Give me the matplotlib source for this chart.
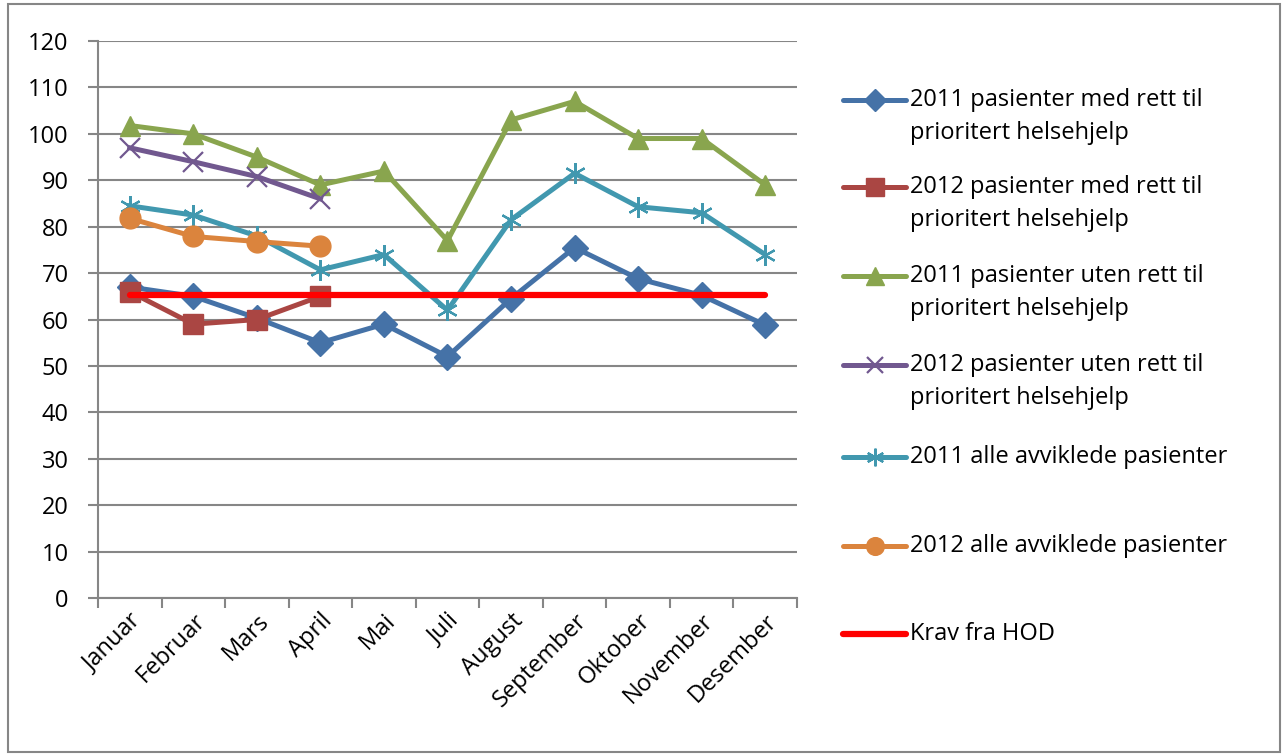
import numpy as np
import matplotlib
matplotlib.use('Agg')
import matplotlib.pyplot as plt
from matplotlib.lines import Line2D
from matplotlib.patches import Rectangle

plt.rcParams['font.family'] = ['Open Sans', 'DejaVu Sans']

months = ['Januar', 'Februar', 'Mars', 'April', 'Mai', 'Juli', 'August',
          'September', 'Oktober', 'November', 'Desember']

med_2011 = [67, 65, 60.3, 55, 59, 52, 64.5, 75.5, 68.8, 65.2, 58.8]
med_2012 = [66, 59, 60, 65]
uten_2011 = [101.8, 100, 95, 89, 92, 77, 103, 107, 99, 99, 89]
uten_2012 = [97, 94, 90.8, 86]
alle_2011 = [84.5, 82.5, 78, 70.7, 74, 62, 81.5, 91.5, 84.3, 83, 74]
alle_2012 = [81.8, 77.9, 76.8, 75.8]
krav_hod = 65.3

labels = [['2011 pasienter med rett til', 'prioritert helsehjelp'],
          ['2012 pasienter med rett til', 'prioritert helsehjelp'],
          ['2011 pasienter uten rett til', 'prioritert helsehjelp'],
          ['2012 pasienter uten rett til', 'prioritert helsehjelp'],
          ['2011 alle avviklede pasienter'],
          ['2012 alle avviklede pasienter'],
          ['Krav fra HOD']]

# farger og markorer (Excel 2007-stil)
styles = [
    dict(color='#4572A7', marker='D', markersize=13),
    dict(color='#AA4643', marker='s', markersize=15),
    dict(color='#89A54E', marker='^', markersize=15),
    dict(color='#71588F', marker='x', markersize=14, markeredgewidth=1.6),
    dict(color='#4198AF', marker=(6, 2, 0), markersize=15, markeredgewidth=1.6),
    dict(color='#DB843D', marker='o', markersize=15),
]
series = [med_2011, med_2012, uten_2011, uten_2012, alle_2011, alle_2012]

fig = plt.figure(figsize=(12.84, 7.56), dpi=100)
ax = fig.add_axes([0.0763, 0.209, 0.5444, 0.7367])

x = np.arange(len(months))
for data, st in zip(series, styles):
    ax.plot(x[:len(data)], data, linewidth=3.6, zorder=3, **st)

ax.plot(x, [krav_hod] * len(months), color='#FF0000', linewidth=4.5,
        solid_capstyle='round', zorder=4)

ax.set_ylim(0, 120)
ax.set_yticks(np.arange(0, 121, 10))
ax.set_xlim(-0.5, len(months) - 0.5)
ax.set_xticks(x)
ax.set_xticklabels(months, rotation=45, ha='right', rotation_mode='anchor')
ax.set_xticks(np.arange(-0.5, len(months)), minor=True)
ax.tick_params(axis='x', which='major', length=0, labelsize=17, pad=8)
ax.tick_params(axis='x', which='minor', length=7, width=1.5, color='#868686')
ax.tick_params(axis='y', length=7, width=1.5, color='#868686', labelsize=17, pad=14)
ax.yaxis.grid(True, color='#868686', linewidth=1.5)
ax.set_axisbelow(True)
for side in ['top', 'right']:
    ax.spines[side].set_visible(False)
for side in ['left', 'bottom']:
    ax.spines[side].set_color('#868686')
    ax.spines[side].set_linewidth(1.5)

# legende, tegnet for hand
W, H = 1284, 756
entry_y = [100, 187, 276, 365, 457, 546, 634]
leg_styles = styles + [dict(color='#FF0000', marker=None)]
for yy, lab, st in zip(entry_y, labels, leg_styles):
    yf = 1 - yy / H
    st = dict(st)
    mk = st.pop('marker')
    ms = st.pop('markersize', 0)
    mew = st.pop('markeredgewidth', None)
    col = st.pop('color')
    lw = 4.5 if mk is None else 3.6
    fig.add_artist(Line2D([843 / W, 906 / W], [yf, yf], color=col, linewidth=lw,
                          solid_capstyle='round', transform=fig.transFigure))
    if mk is not None:
        kw = {} if mew is None else dict(markeredgewidth=mew)
        fig.add_artist(Line2D([874.5 / W], [yf], color=col, marker=mk,
                              markersize=ms * 0.85, linestyle='none',
                              transform=fig.transFigure, **kw))
    for i, line in enumerate(lab):
        fig.text(910 / W, 1 - (yy + 33 * i) / H, line, fontsize=17,
                 va='center', ha='left', transform=fig.transFigure)

fig.add_artist(Rectangle((8 / W, 4 / H), 1272 / W, 748 / H, fill=False,
                         edgecolor='#868686', linewidth=1.5,
                         transform=fig.transFigure))

fig.savefig('out.png', dpi=100)
